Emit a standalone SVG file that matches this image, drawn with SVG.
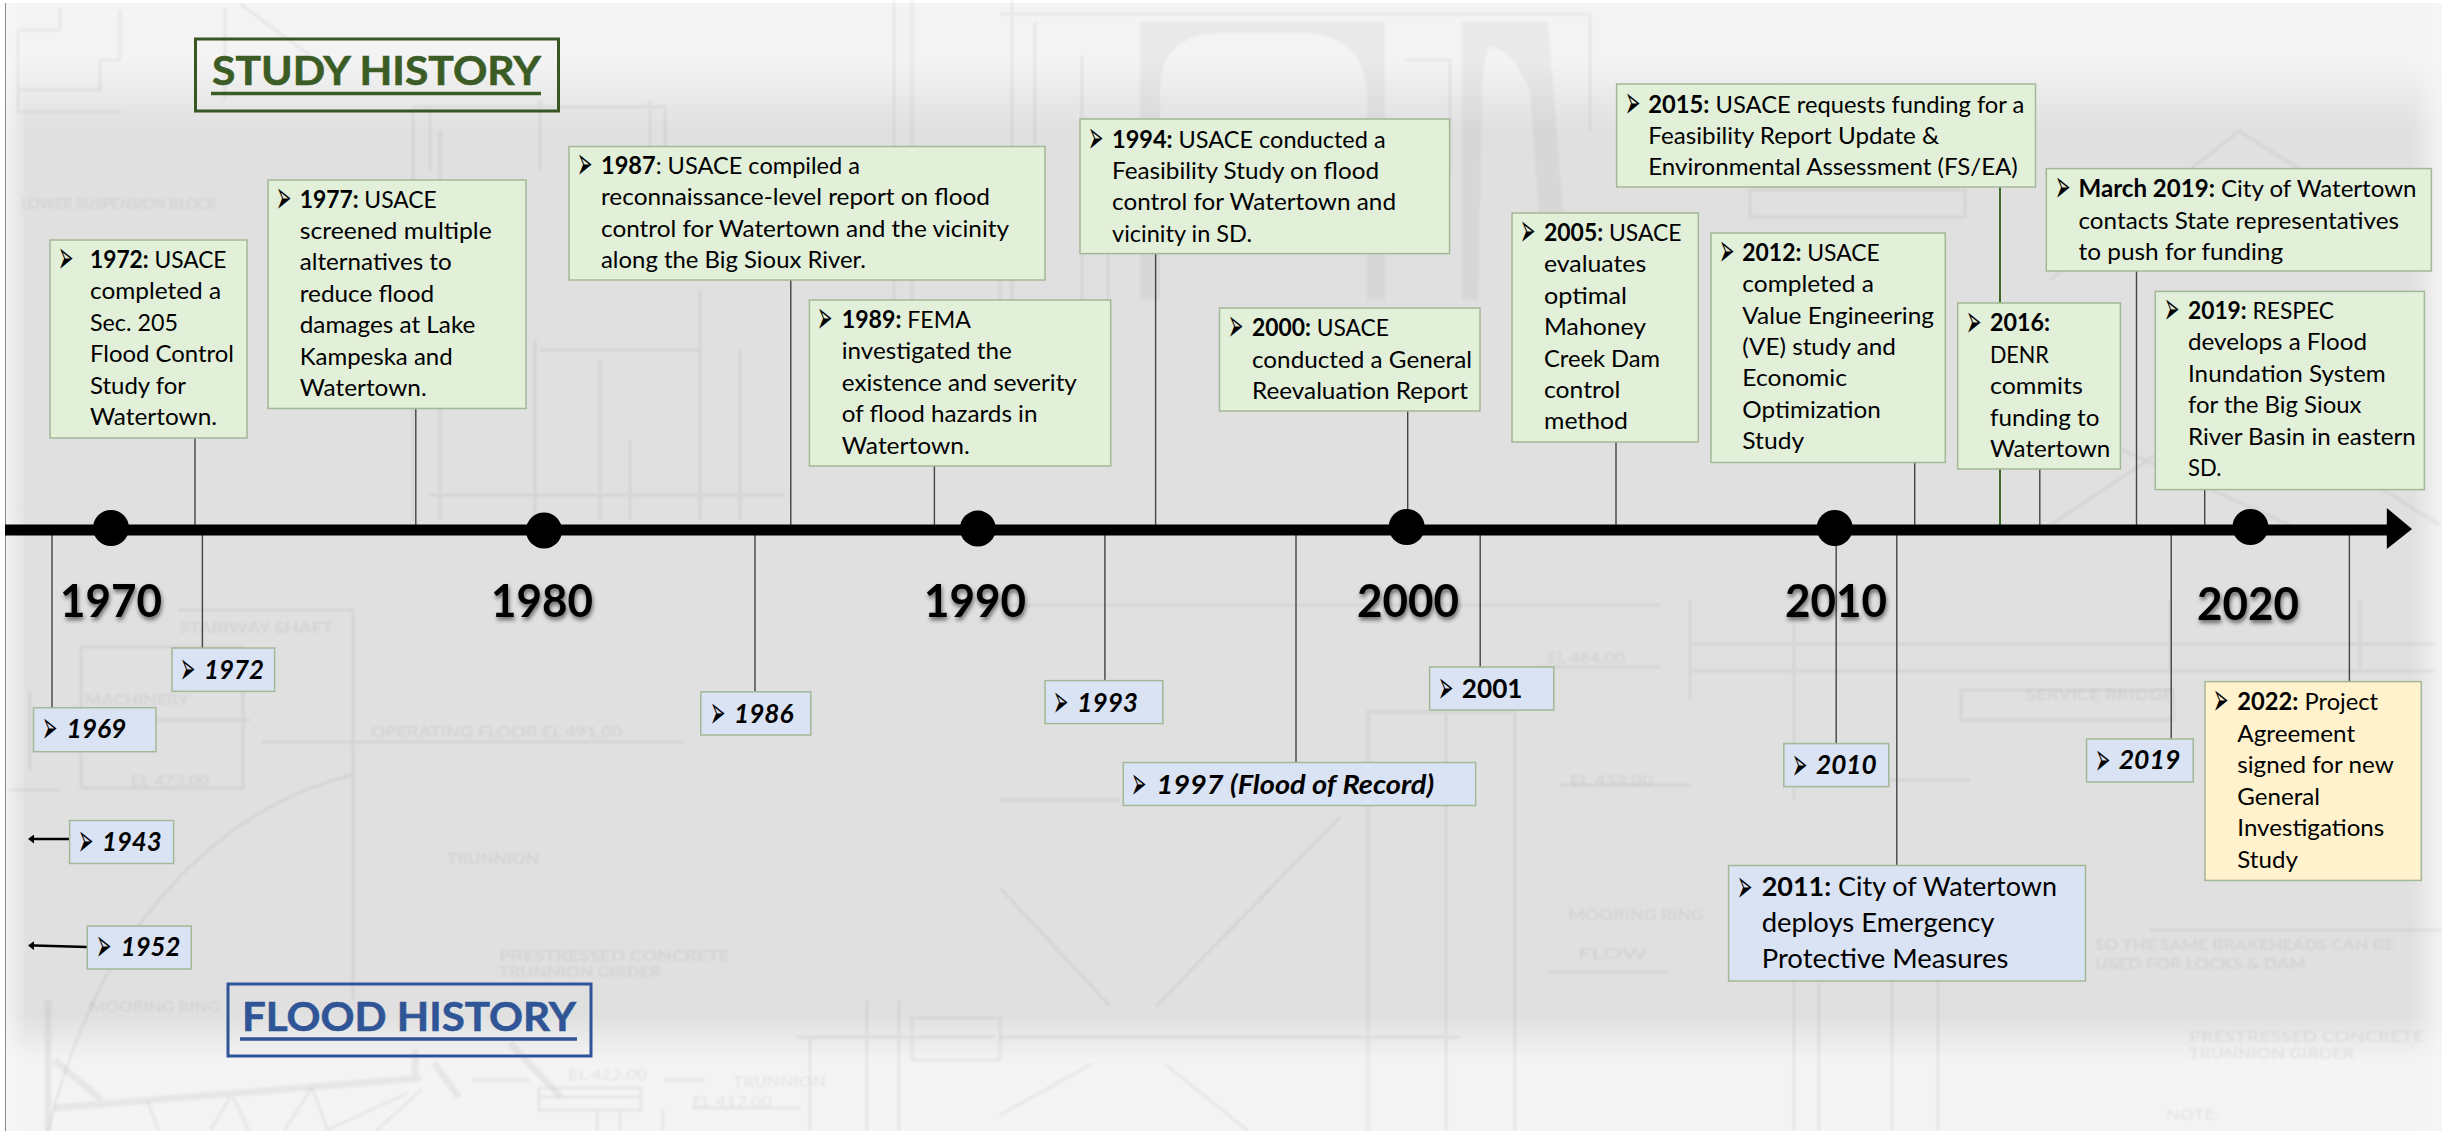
<svg xmlns="http://www.w3.org/2000/svg" width="2442" height="1131" viewBox="0 0 2442 1131">
<defs>
<style>
text{font-family:"Lato","Liberation Sans",sans-serif;fill:#000}
.t{font-size:24px}
.t tspan.h{font-weight:700}
.l{font-size:26.5px}
.bu{font-family:"DejaVu Sans",sans-serif;font-size:27px;transform-box:fill-box;transform-origin:0 55%;transform:scale(.68,1.7)}
.i{font-size:26px;font-weight:700;font-style:italic}
.yr{font-size:45px;font-weight:700;filter:drop-shadow(1px 3px 2px rgba(0,0,0,.55))}
.hd{font-size:41px;font-weight:700;stroke-width:.6}
.g{fill:#e2efd9;stroke:#a3b897;stroke-width:1.5}
.b{fill:#dae3f3;stroke:#a3b897;stroke-width:1.5}
.y{fill:#fff2cc;stroke:#a3b897;stroke-width:1.5}
.c{stroke:#444;stroke-width:1.4;fill:none}
#ghost{filter:blur(.8px)}
.gh{stroke:#000;stroke-opacity:.05;stroke-width:3;fill:none}
.gw{stroke:#000;stroke-opacity:.05;stroke-width:7;fill:none}
.gf{fill:#000;fill-opacity:.04}
.gt{fill:#000;fill-opacity:.055;font-size:16px;font-weight:700}
</style>
<linearGradient id="ft" x1="0" y1="0" x2="0" y2="1"><stop offset="0" stop-color="#f7f7f7" stop-opacity=".85"/><stop offset=".45" stop-color="#f7f7f7" stop-opacity=".85"/><stop offset="1" stop-color="#f7f7f7" stop-opacity="0"/></linearGradient>
<linearGradient id="fb" x1="0" y1="0" x2="0" y2="1"><stop offset="0" stop-color="#f7f7f7" stop-opacity="0"/><stop offset=".4" stop-color="#f7f7f7" stop-opacity=".85"/><stop offset="1" stop-color="#f7f7f7" stop-opacity=".85"/></linearGradient>
<linearGradient id="fl" x1="0" y1="0" x2="1" y2="0"><stop offset="0" stop-color="#f7f7f7" stop-opacity=".85"/><stop offset="1" stop-color="#f7f7f7" stop-opacity="0"/></linearGradient>
<linearGradient id="fr" x1="0" y1="0" x2="1" y2="0"><stop offset="0" stop-color="#f7f7f7" stop-opacity="0"/><stop offset="1" stop-color="#f7f7f7" stop-opacity=".85"/></linearGradient>
<marker id="ah" markerWidth="6" markerHeight="9" refX="0" refY="4.5" orient="auto" markerUnits="userSpaceOnUse"><path d="M0 0L6 4.5L0 9z" fill="#000"/></marker>
</defs>
<g id="background">
<rect width="2442" height="1131" fill="#fff"/>
<rect x="5" y="3" width="2437" height="1128" fill="#e0e0e0"/>
<rect x="5" y="3" width="2437" height="127" fill="url(#ft)"/>
<rect x="5" y="1015" width="2437" height="116" fill="url(#fb)"/>
<rect x="5" y="3" width="22" height="1128" fill="url(#fl)"/>
<rect x="2412" y="3" width="30" height="1128" fill="url(#fr)"/>
<g id="ghost">
<path class="gf" d="M1140 22H1385V300H1367V90Q1360 33 1300 33H1225Q1160 33 1160 90V300H1140zM1462 22H1548L1570 300H1545L1530 90Q1510 47 1490 47Q1482 60 1482 100L1478 300H1462z"/>
<path class="gh" d="M1000 14H1590M1590 14V130M1035 22V170M1082 55V120H1130V170M1405 60H1450V170M1000 210V300M894 0V300M912 0V300M1012 0V300M1082 250V300M1108 250V300M1750 190H1965V217H1750zM1790 150V190M1900 150V190"/>
<path class="gh" d="M18 30H60V8M18 30V90H100V60H120V10M18 90V112H120M225 8V100M240 4L330 70M413 107H665V180M430 108V170M540 100V170M650 100V170M413 107V520M440 130V520M540 350H700M535 340V520M600 360V520M700 290V520M740 350V520M630 440V520M430 495H785"/>
<path class="gh" d="M2239 131L2427 250M2239 131L2050 280M2050 525L2239 400L2440 525M2100 440L2290 525"/>
<path class="gh" d="M178 610H353V1000M81 788V647H243V788H81M40 720H250M262 742H684M355 774Q210 810 115 960Q70 1040 48 1131M8 790H60M30 690V770"/>
<path class="gw" d="M48 1000V1131M54 1108L421 1078M54 1060L102 1100M415 1050V1080M510 1043L561 1097M434 1063L459 1097"/>
<path class="gh" d="M147 1100L159 1131M230 1097L210 1131M233 1097L249 1131M312 1087L284 1131M312 1087L328 1131M408 1093L325 1131M421 1090L376 1131M539 1088H641V1110H539zM539 1097H641M597 1110V1131M620 1110V1131M663 1110V1131M797 1037H995M810 1037V1131M867 1000V1131M899 1000V1131M912 1018H1000V1060H912zM472 1080H530M664 1080H705M692 1108H800"/>
<path class="gh" d="M1000 605H1660M1000 800H1120M1368 710V1131M1446 710V1131M1515 710V1131M1368 712H1515M1340 817L1156 1006M1000 888L1110 1006M1000 1037H1460M1092 1064L1000 1115M1165 1064L1248 1131M1535 667H1660M1560 785H1690M1794 982V1131M1819 982V1131M1892 982V1131M1938 982V1131M1690 600V700M1690 644H2435M1690 671H2435M1961 690H2173V720H1961zM1794 620V800M1880 780H1970M2150 930H2442M2360 600V670M2170 600V670M1547 972H1667"/>
<text class="gt" x="179" y="633" textLength="154" lengthAdjust="spacingAndGlyphs">STAIRWAY SHAFT</text>
<text class="gt" x="85" y="705" textLength="104" lengthAdjust="spacingAndGlyphs">MACHINERY</text>
<text class="gt" x="131" y="786" textLength="78" lengthAdjust="spacingAndGlyphs">EL 473.00</text>
<text class="gt" x="371" y="737" textLength="251" lengthAdjust="spacingAndGlyphs">OPERATING FLOOR EL 491.00</text>
<text class="gt" x="447" y="864" textLength="92" lengthAdjust="spacingAndGlyphs">TRUNNION</text>
<text class="gt" x="499" y="961" textLength="231" lengthAdjust="spacingAndGlyphs">PRESTRESSED CONCRETE</text>
<text class="gt" x="499" y="977" textLength="162" lengthAdjust="spacingAndGlyphs">TRUNNION GIRDER</text>
<text class="gt" x="89" y="1012" textLength="131" lengthAdjust="spacingAndGlyphs">MOORING RING</text>
<text class="gt" x="568" y="1080" textLength="79" lengthAdjust="spacingAndGlyphs">EL 422.00</text>
<text class="gt" x="733" y="1087" textLength="93" lengthAdjust="spacingAndGlyphs">TRUNNION</text>
<text class="gt" x="692" y="1107" textLength="80" lengthAdjust="spacingAndGlyphs">EL 417.00</text>
<text class="gt" x="21" y="209" textLength="196" lengthAdjust="spacingAndGlyphs">LOWER SUSPENSION BLOCK</text>
<text class="gt" x="1568" y="920" textLength="136" lengthAdjust="spacingAndGlyphs">MOORING RING</text>
<text class="gt" x="1578" y="959" textLength="69" lengthAdjust="spacingAndGlyphs">FLOW</text>
<text class="gt" x="1547" y="663" textLength="78" lengthAdjust="spacingAndGlyphs">EL 484.00</text>
<text class="gt" x="1570" y="786" textLength="83" lengthAdjust="spacingAndGlyphs">EL 453.00</text>
<text class="gt" x="2026" y="700" textLength="147" lengthAdjust="spacingAndGlyphs">SERVICE BRIDGE</text>
<text class="gt" x="2095" y="950" textLength="299" lengthAdjust="spacingAndGlyphs">SO THE SAME BRAKEHEADS CAN BE</text>
<text class="gt" x="2095" y="969" textLength="211" lengthAdjust="spacingAndGlyphs">USED FOR LOCKS &amp; DAM</text>
<text class="gt" x="2189" y="1042" textLength="235" lengthAdjust="spacingAndGlyphs">PRESTRESSED CONCRETE</text>
<text class="gt" x="2189" y="1059" textLength="165" lengthAdjust="spacingAndGlyphs">TRUNNION GIRDER</text>
<text class="gt" x="2166" y="1120" textLength="53" lengthAdjust="spacingAndGlyphs">NOTE:</text>
</g>
<path d="M5.5 3V1131" stroke="#8c8c8c" stroke-width="1"/>
</g>
<g id="connectors">
<path class="c" d="M195 438V526M415.8 408V526M790.8 280V526M934.4 466V526M1155.6 253V526M1407.7 411V526M1616 442V526M1914.7 462V526M2039.8 469V526M2136.5 271V526M2204.7 490V526"/>
<path d="M2000 187V528" stroke="#3f6b2a" stroke-width="2" fill="none"/>
<path class="c" d="M52 534V708M202.4 534V648M755 534V692M1104.9 534V681M1296 534V763M1480.2 534V667M1836.2 534V744M1896.8 534V866M2171.2 534V739M2349.4 534V682"/>
<path d="M69.6 839H34" stroke="#000" stroke-width="2.5" marker-end="url(#ah)"/>
<path d="M87.3 947L34 945.6" stroke="#000" stroke-width="2.5" marker-end="url(#ah)"/>
</g>
<g id="timeline">
<path d="M5 530H2388" stroke="#000" stroke-width="11"/>
<path d="M2386.8 508L2412 529L2386.8 549z" fill="#000"/>
<circle cx="111" cy="528" r="18"/><circle cx="544" cy="530.5" r="18"/><circle cx="977.8" cy="528.6" r="18"/><circle cx="1406.7" cy="527" r="18"/><circle cx="1834.7" cy="528" r="18"/><circle cx="2250.4" cy="527" r="18"/>
<text class="yr" x="60" y="617" textLength="102" lengthAdjust="spacingAndGlyphs">1970</text>
<text class="yr" x="491" y="617" textLength="102" lengthAdjust="spacingAndGlyphs">1980</text>
<text class="yr" x="924" y="617" textLength="102" lengthAdjust="spacingAndGlyphs">1990</text>
<text class="yr" x="1357" y="617" textLength="102" lengthAdjust="spacingAndGlyphs">2000</text>
<text class="yr" x="1785" y="617" textLength="102" lengthAdjust="spacingAndGlyphs">2010</text>
<text class="yr" x="2197" y="620" textLength="102" lengthAdjust="spacingAndGlyphs">2020</text>
</g>
<g id="study-history"><rect x="195.5" y="39" width="363" height="72" fill="none" stroke="#375623" stroke-width="3"/><text class="hd" x="212" y="84.6" textLength="329" lengthAdjust="spacingAndGlyphs" style="fill:#3c5c25;stroke:#3c5c25">STUDY HISTORY</text><path d="M211 93.6H541" stroke="#3c5c25" stroke-width="3.5"/></g>
<g id="flood-history"><rect x="228" y="984" width="363" height="72" fill="none" stroke="#2f5597" stroke-width="3"/><text class="hd" x="242" y="1031" textLength="334" lengthAdjust="spacingAndGlyphs" style="fill:#2f5597;stroke:#2f5597">FLOOD HISTORY</text><path d="M240 1039H577" stroke="#2f5597" stroke-width="3.5"/></g>

<g id="s1972"><rect class="g" x="50" y="240" width="197" height="198"/><text class="bu" x="58" y="268">➢</text>
<text class="t" x="90" y="268" textLength="136.5" lengthAdjust="spacingAndGlyphs"><tspan class="h">1972:</tspan> USACE</text>
<text class="t" x="90" y="299.4" textLength="131" lengthAdjust="spacingAndGlyphs">completed a</text>
<text class="t" x="90" y="330.8" textLength="88" lengthAdjust="spacingAndGlyphs">Sec. 205</text>
<text class="t" x="90" y="362.2" textLength="144" lengthAdjust="spacingAndGlyphs">Flood Control</text>
<text class="t" x="90" y="393.6" textLength="96" lengthAdjust="spacingAndGlyphs">Study for</text>
<text class="t" x="90" y="425" textLength="127" lengthAdjust="spacingAndGlyphs">Watertown.</text></g>

<g id="s1977"><rect class="g" x="268" y="180" width="258" height="228.5"/><text class="bu" x="276" y="207.5">➢</text>
<text class="t" x="299.7" y="207.5" textLength="137" lengthAdjust="spacingAndGlyphs"><tspan class="h">1977:</tspan> USACE</text>
<text class="t" x="299.7" y="239" textLength="192" lengthAdjust="spacingAndGlyphs">screened multiple</text>
<text class="t" x="299.7" y="270.4" textLength="152" lengthAdjust="spacingAndGlyphs">alternatives to</text>
<text class="t" x="299.7" y="301.8" textLength="134.4" lengthAdjust="spacingAndGlyphs">reduce flood</text>
<text class="t" x="299.7" y="333.2" textLength="175.7" lengthAdjust="spacingAndGlyphs">damages at Lake</text>
<text class="t" x="299.7" y="364.6" textLength="153" lengthAdjust="spacingAndGlyphs">Kampeska and</text>
<text class="t" x="299.7" y="396" textLength="127" lengthAdjust="spacingAndGlyphs">Watertown.</text></g>

<g id="s1987"><rect class="g" x="569" y="146.5" width="476" height="133.5"/><text class="bu" x="577" y="174">➢</text>
<text class="t" x="601" y="174" textLength="259" lengthAdjust="spacingAndGlyphs"><tspan class="h">1987</tspan>: USACE compiled a</text>
<text class="t" x="601" y="205.4" textLength="389" lengthAdjust="spacingAndGlyphs">reconnaissance-level report on flood</text>
<text class="t" x="601" y="236.8" textLength="408" lengthAdjust="spacingAndGlyphs">control for Watertown and the vicinity</text>
<text class="t" x="601" y="268.2" textLength="265" lengthAdjust="spacingAndGlyphs">along the Big Sioux River.</text></g>

<g id="s1989"><rect class="g" x="809.4" y="300" width="301.3" height="166"/><text class="bu" x="817" y="328">➢</text>
<text class="t" x="841.8" y="328" textLength="129" lengthAdjust="spacingAndGlyphs"><tspan class="h">1989:</tspan> FEMA</text>
<text class="t" x="841.8" y="359.4" textLength="170" lengthAdjust="spacingAndGlyphs">investigated the</text>
<text class="t" x="841.8" y="390.8" textLength="235" lengthAdjust="spacingAndGlyphs">existence and severity</text>
<text class="t" x="841.8" y="422.2" textLength="195.6" lengthAdjust="spacingAndGlyphs">of flood hazards in</text>
<text class="t" x="841.8" y="453.6" textLength="128" lengthAdjust="spacingAndGlyphs">Watertown.</text></g>

<g id="s1994"><rect class="g" x="1080" y="119" width="369.6" height="134.6"/><text class="bu" x="1088" y="147.5">➢</text>
<text class="t" x="1112" y="147.5" textLength="273.6" lengthAdjust="spacingAndGlyphs"><tspan class="h">1994:</tspan> USACE conducted a</text>
<text class="t" x="1112" y="178.9" textLength="267" lengthAdjust="spacingAndGlyphs">Feasibility Study on flood</text>
<text class="t" x="1112" y="210.3" textLength="284" lengthAdjust="spacingAndGlyphs">control for Watertown and</text>
<text class="t" x="1112" y="241.7" textLength="140" lengthAdjust="spacingAndGlyphs">vicinity in SD.</text></g>

<g id="s2000"><rect class="g" x="1219.5" y="308" width="260.5" height="103"/><text class="bu" x="1228" y="336">➢</text>
<text class="t" x="1252" y="336" textLength="137" lengthAdjust="spacingAndGlyphs"><tspan class="h">2000:</tspan> USACE</text>
<text class="t" x="1252" y="367.5" textLength="220" lengthAdjust="spacingAndGlyphs">conducted a General</text>
<text class="t" x="1252" y="399" textLength="216" lengthAdjust="spacingAndGlyphs">Reevaluation Report</text></g>

<g id="s2005"><rect class="g" x="1512" y="213" width="186.3" height="229"/><text class="bu" x="1520" y="241">➢</text>
<text class="t" x="1544" y="241" textLength="137.6" lengthAdjust="spacingAndGlyphs"><tspan class="h">2005:</tspan> USACE</text>
<text class="t" x="1544" y="272.4" textLength="102.2" lengthAdjust="spacingAndGlyphs">evaluates</text>
<text class="t" x="1544" y="303.8" textLength="83" lengthAdjust="spacingAndGlyphs">optimal</text>
<text class="t" x="1544" y="335.2" textLength="102" lengthAdjust="spacingAndGlyphs">Mahoney</text>
<text class="t" x="1544" y="366.6" textLength="116" lengthAdjust="spacingAndGlyphs">Creek Dam</text>
<text class="t" x="1544" y="398" textLength="76.4" lengthAdjust="spacingAndGlyphs">control</text>
<text class="t" x="1544" y="429.4" textLength="84" lengthAdjust="spacingAndGlyphs">method</text></g>

<g id="s2012"><rect class="g" x="1711" y="233" width="234.3" height="229.5"/><text class="bu" x="1719" y="260.7">➢</text>
<text class="t" x="1742.3" y="260.7" textLength="137.5" lengthAdjust="spacingAndGlyphs"><tspan class="h">2012:</tspan> USACE</text>
<text class="t" x="1742.3" y="292" textLength="131.6" lengthAdjust="spacingAndGlyphs">completed a</text>
<text class="t" x="1742.3" y="323.5" textLength="191.7" lengthAdjust="spacingAndGlyphs">Value Engineering</text>
<text class="t" x="1742.3" y="355" textLength="153.6" lengthAdjust="spacingAndGlyphs">(VE) study and</text>
<text class="t" x="1742.3" y="386.3" textLength="104.7" lengthAdjust="spacingAndGlyphs">Economic</text>
<text class="t" x="1742.3" y="417.7" textLength="138.6" lengthAdjust="spacingAndGlyphs">Optimization</text>
<text class="t" x="1742.3" y="449" textLength="61.8" lengthAdjust="spacingAndGlyphs">Study</text></g>

<g id="s2015"><rect class="g" x="1616.6" y="84" width="418.9" height="103"/><text class="bu" x="1625" y="112.5">➢</text>
<text class="t" x="1648.3" y="112.5" textLength="376" lengthAdjust="spacingAndGlyphs"><tspan class="h">2015:</tspan> USACE requests funding for a</text>
<text class="t" x="1648.3" y="144" textLength="291" lengthAdjust="spacingAndGlyphs">Feasibility Report Update &amp;</text>
<text class="t" x="1648.3" y="175" textLength="369.5" lengthAdjust="spacingAndGlyphs">Environmental Assessment (FS/EA)</text></g>

<g id="s2016"><rect class="g" x="1957.7" y="303" width="162.7" height="166"/><text class="bu" x="1966" y="331.4">➢</text>
<text class="t" x="1989.9" y="331.4" textLength="60" lengthAdjust="spacingAndGlyphs"><tspan class="h">2016:</tspan></text>
<text class="t" x="1989.9" y="362.8" textLength="59" lengthAdjust="spacingAndGlyphs">DENR</text>
<text class="t" x="1989.9" y="394.2" textLength="93" lengthAdjust="spacingAndGlyphs">commits</text>
<text class="t" x="1989.9" y="425.6" textLength="109.6" lengthAdjust="spacingAndGlyphs">funding to</text>
<text class="t" x="1989.9" y="457" textLength="120.3" lengthAdjust="spacingAndGlyphs">Watertown</text></g>

<g id="s2019m"><rect class="g" x="2046.3" y="168.6" width="385.1" height="102.4"/><text class="bu" x="2055" y="197">➢</text>
<text class="t" x="2078.5" y="197" textLength="338" lengthAdjust="spacingAndGlyphs"><tspan class="h">March 2019:</tspan> City of Watertown</text>
<text class="t" x="2078.5" y="228.6" textLength="320.5" lengthAdjust="spacingAndGlyphs">contacts State representatives</text>
<text class="t" x="2078.5" y="260" textLength="204.6" lengthAdjust="spacingAndGlyphs">to push for funding</text></g>

<g id="s2019"><rect class="g" x="2155.3" y="291.4" width="269.1" height="198.2"/><text class="bu" x="2164" y="319">➢</text>
<text class="t" x="2188" y="319" textLength="146" lengthAdjust="spacingAndGlyphs"><tspan class="h">2019:</tspan> RESPEC</text>
<text class="t" x="2188" y="350.4" textLength="179" lengthAdjust="spacingAndGlyphs">develops a Flood</text>
<text class="t" x="2188" y="381.8" textLength="197.7" lengthAdjust="spacingAndGlyphs">Inundation System</text>
<text class="t" x="2188" y="413.2" textLength="173.5" lengthAdjust="spacingAndGlyphs">for the Big Sioux</text>
<text class="t" x="2188" y="444.6" textLength="227.8" lengthAdjust="spacingAndGlyphs">River Basin in eastern</text>
<text class="t" x="2188" y="476" textLength="33.4" lengthAdjust="spacingAndGlyphs">SD.</text></g>

<g id="f1969"><rect class="b" x="33.5" y="707.7" width="122.5" height="44"/><text class="bu" x="42" y="738">➢</text><text class="i" x="66.4" y="738" textLength="60" lengthAdjust="spacingAndGlyphs">1969</text></g>
<g id="f1972"><rect class="b" x="172" y="648" width="102.6" height="43.4"/><text class="bu" x="180" y="678.6">➢</text><text class="i" x="204" y="678.6" textLength="60" lengthAdjust="spacingAndGlyphs">1972</text></g>
<g id="f1986"><rect class="b" x="700.8" y="691.8" width="110" height="43.2"/><text class="bu" x="710" y="722.6">➢</text><text class="i" x="734" y="722.6" textLength="59.4" lengthAdjust="spacingAndGlyphs">1986</text></g>
<g id="f1943"><rect class="b" x="69.6" y="820.5" width="104" height="43"/><text class="bu" x="78" y="850.6">➢</text><text class="i" x="102" y="850.6" textLength="59.6" lengthAdjust="spacingAndGlyphs">1943</text></g>
<g id="f1952"><rect class="b" x="87.3" y="926" width="104" height="43"/><text class="bu" x="96" y="956">➢</text><text class="i" x="120.8" y="956" textLength="59.6" lengthAdjust="spacingAndGlyphs">1952</text></g>
<g id="f1993"><rect class="b" x="1045" y="680.6" width="117.8" height="43"/><text class="bu" x="1053" y="711.7">➢</text><text class="i" x="1077.3" y="711.7" textLength="60.7" lengthAdjust="spacingAndGlyphs">1993</text></g>
<g id="f1997"><rect class="b" x="1123.3" y="762.5" width="352.3" height="43"/><text class="bu" x="1131" y="793.7">➢</text><text class="i" x="1156.4" y="793.7" textLength="277.8" lengthAdjust="spacingAndGlyphs">1997 (Flood of Record)</text></g>
<g id="f2001"><rect class="b" x="1429.6" y="667" width="124.2" height="43"/><text class="bu" x="1438" y="698">➢</text><text class="i" x="1461.8" y="698" textLength="60.7" lengthAdjust="spacingAndGlyphs" style="font-style:normal">2001</text></g>
<g id="f2010"><rect class="b" x="1783.8" y="743.6" width="104.9" height="43"/><text class="bu" x="1792" y="774.4">➢</text><text class="i" x="1816" y="774.4" textLength="60.7" lengthAdjust="spacingAndGlyphs">2010</text></g>
<g id="f2019"><rect class="b" x="2086.5" y="739" width="106.7" height="43"/><text class="bu" x="2095" y="769.3">➢</text><text class="i" x="2118.7" y="769.3" textLength="61.6" lengthAdjust="spacingAndGlyphs">2019</text></g>

<g id="f2011"><rect class="b" x="1728.6" y="865.5" width="356.9" height="115.5"/><text class="bu" x="1737" y="896.3">➢</text>
<text class="t l" x="1761.7" y="896.3" textLength="295.3" lengthAdjust="spacingAndGlyphs"><tspan class="h">2011:</tspan> City of Watertown</text>
<text class="t l" x="1761.7" y="932" textLength="232.8" lengthAdjust="spacingAndGlyphs">deploys Emergency</text>
<text class="t l" x="1761.7" y="968.4" textLength="246.6" lengthAdjust="spacingAndGlyphs">Protective Measures</text></g>

<g id="f2022"><rect class="y" x="2205" y="681.6" width="216.3" height="198.8"/><text class="bu" x="2213" y="710">➢</text>
<text class="t" x="2237.3" y="710" textLength="140.8" lengthAdjust="spacingAndGlyphs"><tspan class="h">2022:</tspan> Project</text>
<text class="t" x="2237.3" y="741.5" textLength="117.8" lengthAdjust="spacingAndGlyphs">Agreement</text>
<text class="t" x="2237.3" y="773" textLength="156.4" lengthAdjust="spacingAndGlyphs">signed for new</text>
<text class="t" x="2237.3" y="804.5" textLength="82.7" lengthAdjust="spacingAndGlyphs">General</text>
<text class="t" x="2237.3" y="836" textLength="147" lengthAdjust="spacingAndGlyphs">Investigations</text>
<text class="t" x="2237.3" y="867.5" textLength="60.6" lengthAdjust="spacingAndGlyphs">Study</text></g>
</svg>
